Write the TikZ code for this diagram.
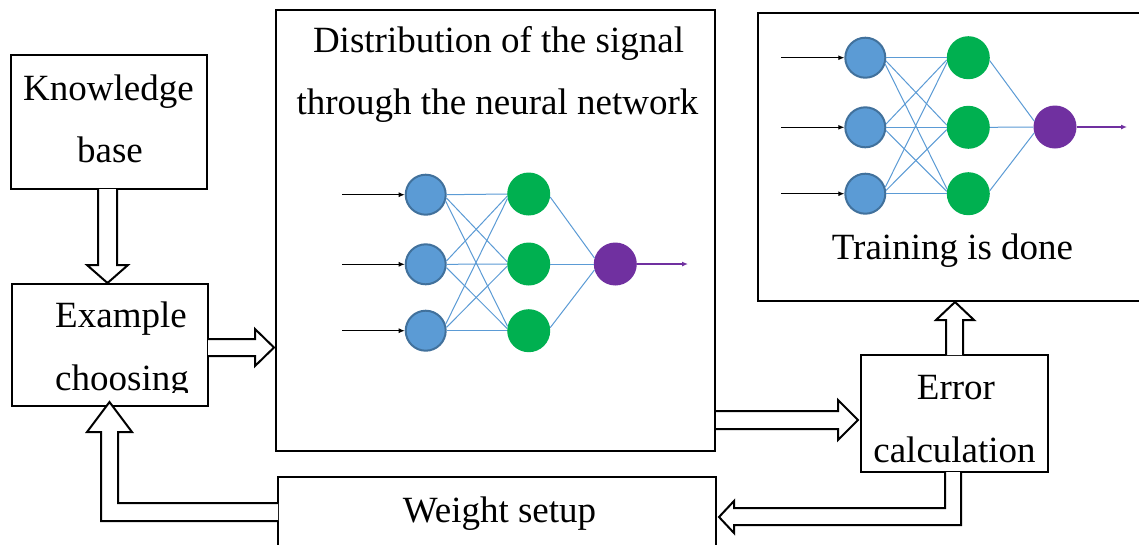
\documentclass[tikz,border=0pt]{standalone}
\usepackage{fontspec}
\setmainfont{Liberation Serif}
\usetikzlibrary{arrows.meta}
\definecolor{nblue}{HTML}{5B9BD5}
\definecolor{nblueb}{HTML}{41719C}
\definecolor{ngreen}{HTML}{00B050}
\definecolor{npurple}{HTML}{7030A0}
\begin{document}
\begin{tikzpicture}[x=1pt,y=-1pt,
  box/.style={draw,line width=2pt,fill=white,inner sep=0pt},
  lbl/.style={font=\fontsize{37}{40}\selectfont,anchor=base,inner sep=0pt},
  barrow/.style={draw,line width=2pt,fill=white,line join=miter},
  inp/.style={circle,fill=nblue,draw=nblueb,line width=2pt,minimum size=40pt,inner sep=0pt},
  hid/.style={circle,fill=ngreen,minimum size=43pt,inner sep=0pt},
  outn/.style={circle,fill=npurple,minimum size=43pt,inner sep=0pt},
  wire/.style={nblue,line width=1pt},
  inarrow/.style={black,line width=1pt,-{Latex[length=6pt,width=5pt]}},
  outarrow/.style={npurple,line width=1.2pt,-{Latex[length=6pt,width=5pt]}},
]
\useasboundingbox (0,0) rectangle (1139,544);
\clip (0,0) rectangle (1139,544);

% boxes
\node[box,minimum width=196pt,minimum height=134pt] (kb) at (109,122) {};
\node[box,minimum width=196pt,minimum height=122pt] (ec) at (110,345) {};
\node[box,minimum width=439pt,minimum height=441pt] (dist) at (495.5,230.5) {};
\node[box,minimum width=438pt,minimum height=103pt] (ws) at (497,528.5) {};
\node[box,minimum width=392pt,minimum height=288pt] (tr) at (954,157) {};
\node[box,minimum width=187pt,minimum height=117pt] (err) at (954.5,413.5) {};

% texts
\node[lbl] (t1) at (108.5,100) {Knowledge};
\node[lbl] (t2) at (110,162) {base};
\node[lbl] (t3) at (121,327) {Example};
\begin{scope}
\clip (0,360) rectangle (300,392);
\node[lbl] (t4) at (122,390) {choosing};
\end{scope}
\node[lbl] (t5) at (498.5,52) {Distribution of the signal};
\node[lbl] (t6) at (497.5,114) {through the neural network};
\node[lbl] (t7) at (952.5,259) {Training is done};
\node[lbl] (t8) at (956,399) {Error};
\node[lbl] (t9) at (954.5,462) {calculation};
\node[lbl] (t10) at (499.5,522) {Weight setup};

% block arrows
\draw[barrow] (98,189) -- (98,265) -- (87,265) -- (107.5,283) -- (128,265) -- (117,265) -- (117,189);
\draw[barrow] (208,339) -- (255,339) -- (255,329) -- (274,347.5) -- (255,366) -- (255,356) -- (208,356);
\draw[barrow] (716,411) -- (838,411) -- (838,400) -- (858,420) -- (838,440) -- (838,429) -- (716,429);
\draw[barrow] (946,355) -- (946,320) -- (936,320) -- (955,302) -- (974,320) -- (963,320) -- (963,355);
\draw[barrow] (945,472) -- (945,508) -- (734,508) -- (734,501) -- (719,517) -- (734,533) -- (734,525) -- (961,525) -- (961,472);
\draw[barrow] (278,503) -- (118,503) -- (118,432) -- (132,432) -- (109.5,402) -- (87,432) -- (101,432) -- (101,521) -- (278,521);

% network 1
\node[inp] (a1) at (425.7,194.7) {};
\node[inp] (a2) at (425.7,264.3) {};
\node[inp] (a3) at (425.7,330.7) {};
\node[hid] (b1) at (528.7,194) {};
\node[hid] (b2) at (528.7,264) {};
\node[hid] (b3) at (528.7,330.7) {};
\node[outn] (c) at (615.3,264) {};
\foreach \i in {1,2,3}{
  \foreach \j in {1,2,3}{\draw[wire] (a\i.{-9*(\j-\i)}) -- (b\j.{180-6*(\j-\i)});}
  \draw[wire] (b\i.{-8*(2-\i)}) -- (c.{180-16*(2-\i)});}
\coordinate (ia1) at (342,194.7);
\coordinate (ia2) at (342,264.3);
\coordinate (ia3) at (342,330.7);
\coordinate (oa) at (688,264);
\foreach \i in {1,2,3}{\draw[inarrow] (ia\i) -- (a\i.west);}
\draw[outarrow] (c) -- (oa);

% network 2
\node[inp] (d1) at (865.3,57.7) {};
\node[inp] (d2) at (865.3,127.3) {};
\node[inp] (d3) at (865.3,193.7) {};
\node[hid] (e1) at (968.3,57.7) {};
\node[hid] (e2) at (968.3,127.3) {};
\node[hid] (e3) at (968.3,193.7) {};
\node[outn] (f) at (1055,127) {};
\foreach \i in {1,2,3}{
  \foreach \j in {1,2,3}{\draw[wire] (d\i.{-9*(\j-\i)}) -- (e\j.{180-6*(\j-\i)});}
  \draw[wire] (e\i.{-8*(2-\i)}) -- (f.{180-16*(2-\i)});}
\coordinate (id1) at (781,57.7);
\coordinate (id2) at (781,127.3);
\coordinate (id3) at (781,193.7);
\coordinate (od) at (1127,127);
\foreach \i in {1,2,3}{\draw[inarrow] (id\i) -- (d\i.west);}
\draw[outarrow] (f) -- (od);
\end{tikzpicture}
\end{document}
